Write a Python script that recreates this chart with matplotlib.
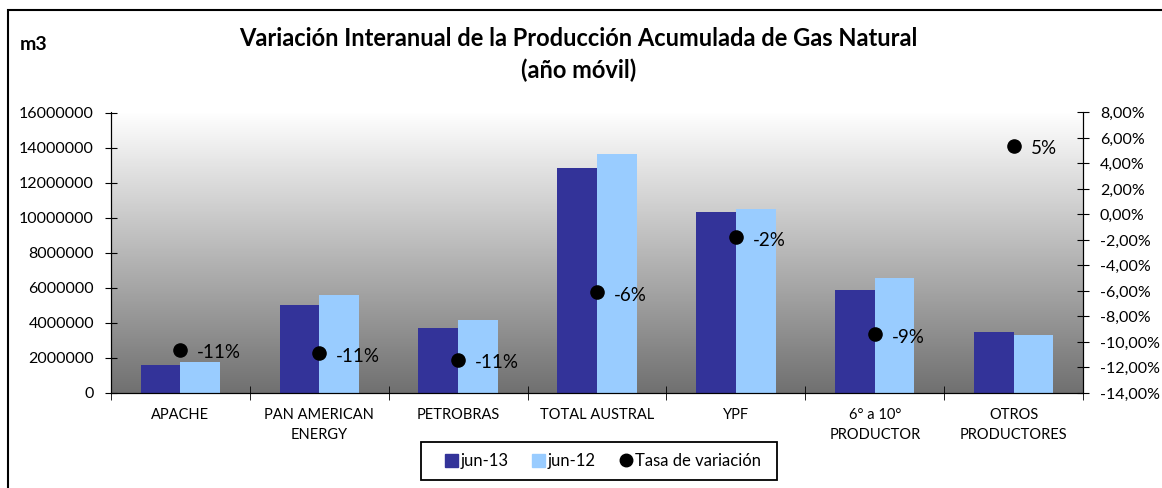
import numpy as np
import matplotlib.pyplot as plt
from matplotlib.colors import LinearSegmentedColormap
from matplotlib.ticker import FuncFormatter, MultipleLocator
from matplotlib.lines import Line2D
from matplotlib.patches import Patch, Rectangle

plt.rcParams['font.family'] = ['Lato', 'DejaVu Sans']

# data
categories = ['APACHE', 'PAN AMERICAN\nENERGY', 'PETROBRAS', 'TOTAL AUSTRAL',
              'YPF', '6° a 10°\nPRODUCTOR', 'OTROS\nPRODUCTORES']
jun13 = [1600000, 5000000, 3700000, 12850000, 10330000, 5900000, 3470000]
jun12 = [1750000, 5600000, 4150000, 13650000, 10500000, 6550000, 3300000]
tasa = [-10.6, -10.9, -11.4, -6.1, -1.8, -9.4, 5.4]

dark = '#333399'
light = '#99ccff'

W, H = 1162, 488
fig = plt.figure(figsize=(W / 100, H / 100), dpi=100)
ax = fig.add_axes([110.7 / W, 1 - 393 / H, 972.6 / W, 280.5 / H])

x = np.arange(len(categories))
w = 0.285

# gradient background of the plot area
grad = np.linspace(0, 1, 256).reshape(-1, 1)
cmap_bg = LinearSegmentedColormap.from_list('bg', ['#ffffff', '#707070'])
ax.imshow(grad, extent=[-0.5, 6.5, 0, 16000000], aspect='auto',
          cmap=cmap_bg, origin='upper', zorder=0)

ax.bar(x - w / 2, jun13, width=w, color=dark, zorder=2)
ax.bar(x + w / 2, jun12, width=w, color=light, zorder=2)

ax.set_xlim(-0.5, 6.5)
ax.set_ylim(0, 16000000)
ax.yaxis.set_major_locator(MultipleLocator(2000000))
ax.yaxis.set_major_formatter(FuncFormatter(lambda v, p: f'{int(v)}'))
ax.tick_params(axis='y', direction='inout', length=8, labelsize=11.5, pad=8)

ax.set_xticks(x)
ax.set_xticklabels(categories, fontsize=10.5, linespacing=1.5)
ax.set_xticks(np.arange(-0.5, 7, 1), minor=True)
ax.tick_params(axis='x', which='major', length=0, pad=11)
ax.tick_params(axis='x', which='minor', direction='inout', length=10)
ax.spines['top'].set_visible(False)

ax2 = ax.twinx()
ax2.set_ylim(-14, 8)
ax2.yaxis.set_major_locator(MultipleLocator(2))
ax2.yaxis.set_major_formatter(FuncFormatter(lambda v, p: f'{v:.2f}'.replace('.', ',') + '%'))
ax2.tick_params(axis='y', direction='inout', length=8, labelsize=11.5, pad=8)
ax2.spines['top'].set_visible(False)
ax2.scatter(x, tasa, s=90, color='black', zorder=5)
for xi, t in zip(x, tasa):
    ax2.annotate(f'{round(t):d}%', (xi, t), xytext=(12, -2), textcoords='offset points',
                 va='center', ha='left', fontsize=13.5)

fig.text(0.498, 1 - 38 / H, 'Variación Interanual de la Producción Acumulada de Gas Natural',
         ha='center', va='center', fontsize=17, fontweight='bold')
fig.text(0.498, 1 - 70 / H, '(año móvil)', ha='center', va='center', fontsize=17,
         fontweight='bold')
fig.text(33.5 / W, 1 - 44 / H, 'm3', ha='center', va='center', fontsize=14, fontweight='bold')

handles = [Patch(color=dark, label='jun-13'),
           Patch(color=light, label='jun-12'),
           Line2D([], [], marker='o', color='black', linestyle='none', markersize=9,
                  label='Tasa de variación')]
fig.legend(handles=handles, loc='center', bbox_to_anchor=(603 / W, 1 - 461 / H), ncol=3,
           fontsize=12, frameon=False, handlelength=0.8, handleheight=0.8,
           handletextpad=0.15, columnspacing=1.4)
fig.patches.append(Rectangle((421 / W, 1 - 480 / H), 356 / W, 38 / H, transform=fig.transFigure,
                             fill=False, edgecolor='black', linewidth=1.3))

# outer chart frame (only left/top edges visible in the crop)
fig.patches.append(Rectangle((7.5 / W, -0.2), 1.2, 1.2 - 10 / H, transform=fig.transFigure,
                             fill=False, edgecolor='black', linewidth=1.5))

fig.savefig('out.png', dpi=100, facecolor='white')
